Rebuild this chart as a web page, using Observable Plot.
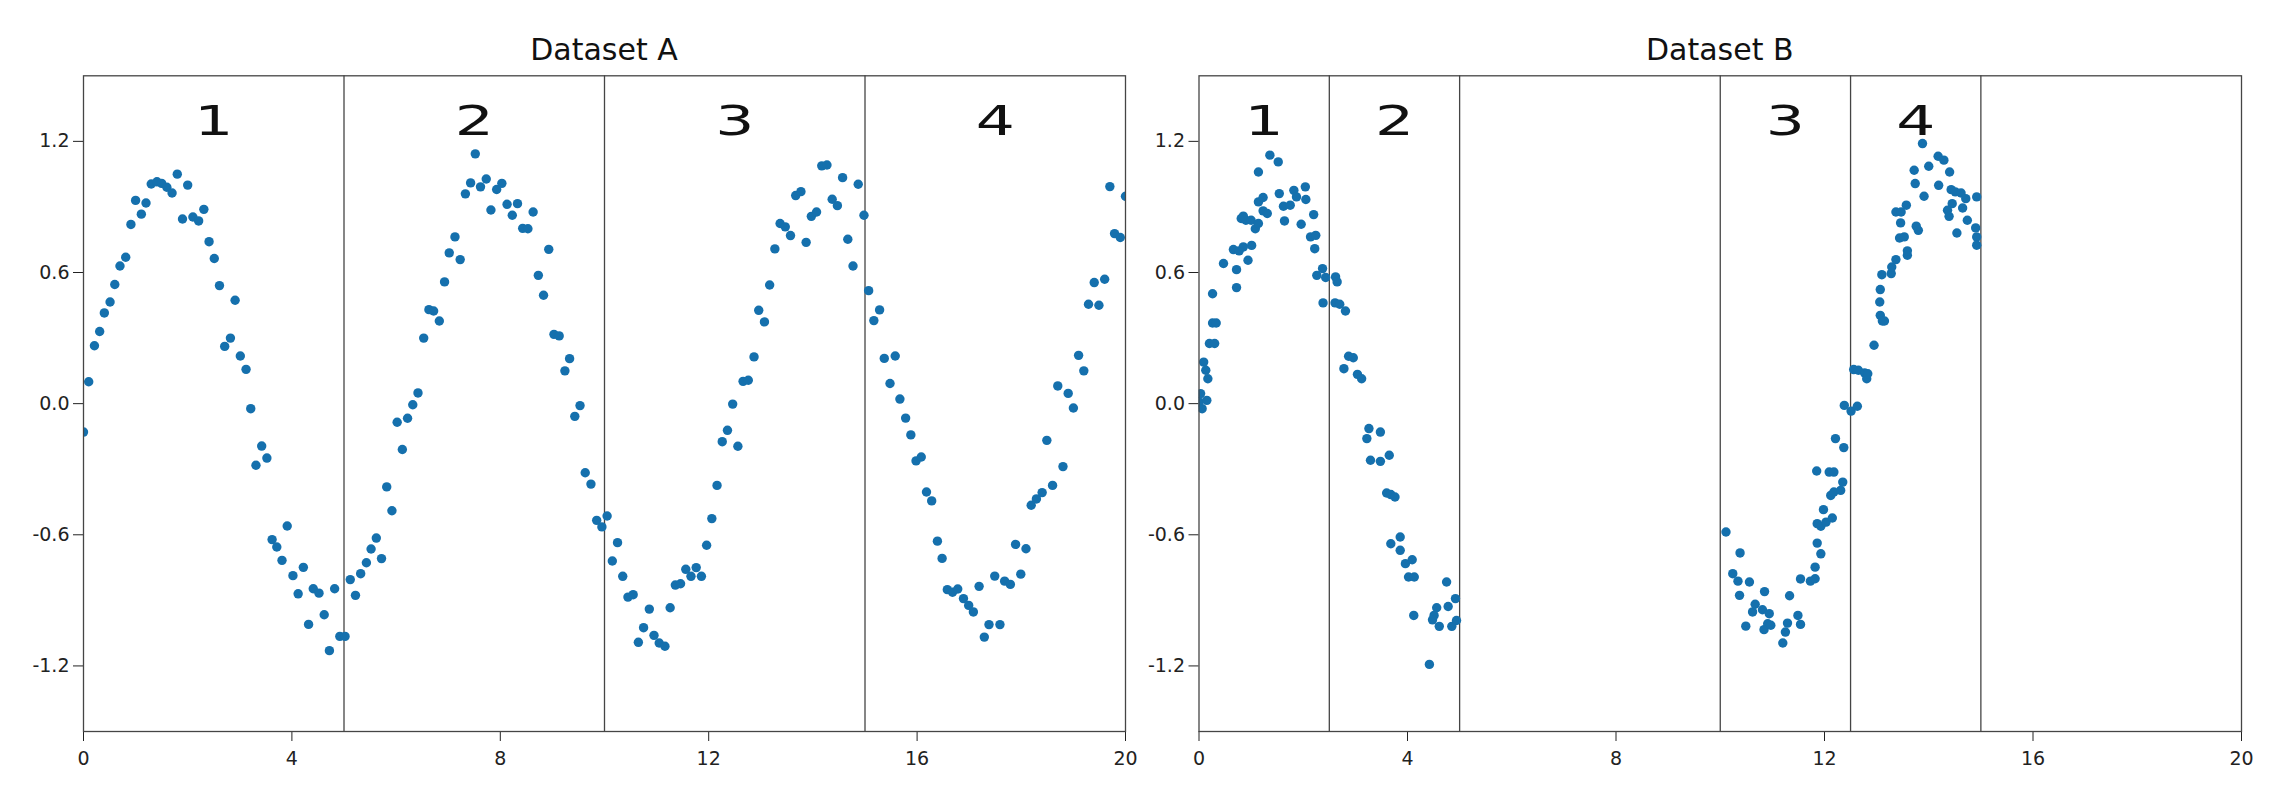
<!DOCTYPE html>
<html>
<head>
<meta charset="utf-8">
<script src="https://cdn.jsdelivr.net/npm/d3@7"></script>
<script src="https://cdn.jsdelivr.net/npm/@observablehq/plot@0.6"></script>
<style>
  html, body { margin: 0; padding: 0; background: white; }
  body { width: 2272px; height: 800px; overflow: hidden; font-family: "DejaVu Sans", sans-serif; }
  #wrap { display: flex; flex-direction: row; }
  .panel { width: 1136px; position: relative; }
  .title { height: 66px; box-sizing: border-box; padding-top: 35px; line-height: 30px; font-size: 30px; color: #111; text-align: center; white-space: nowrap; }
  svg { display: block; overflow: visible; }
</style>
</head>
<body>
<div id="wrap"></div>
<script>
// ---- Data ----
const titles = ["Dataset A", "Dataset B"];
const xTicks = [0, 4, 8, 12, 16, 20];
const yTicks = [-1.2, -0.6, 0.0, 0.6, 1.2];

// Dataset A
const xA = [0.0,0.10,0.21,0.31,0.40,0.51,0.60,0.70,0.81,0.91,1.00,1.11,1.20,1.30,1.41,1.50,1.60,1.70,1.80,1.90,2.00,2.10,2.21,2.31,2.41,2.51,2.61,2.71,2.82,2.91,3.01,3.12,3.21,3.31,3.42,3.52,3.62,3.71,3.81,3.91,4.02,4.12,4.22,4.32,4.41,4.52,4.62,4.72,4.82,4.92,5.02,5.12,5.22,5.32,5.43,5.52,5.62,5.72,5.82,5.92,6.02,6.12,6.22,6.32,6.42,6.53,6.63,6.72,6.83,6.93,7.02,7.13,7.23,7.33,7.43,7.52,7.62,7.73,7.82,7.93,8.03,8.13,8.23,8.33,8.43,8.53,8.63,8.73,8.83,8.93,9.03,9.13,9.24,9.33,9.43,9.53,9.63,9.74,9.85,9.95,10.05,10.15,10.25,10.35,10.45,10.55,10.65,10.75,10.86,10.95,11.05,11.16,11.26,11.36,11.46,11.56,11.66,11.76,11.86,11.96,12.06,12.16,12.26,12.36,12.46,12.56,12.66,12.76,12.87,12.96,13.07,13.17,13.27,13.37,13.47,13.57,13.67,13.77,13.87,13.97,14.07,14.17,14.27,14.37,14.47,14.57,14.67,14.77,14.87,14.98,15.07,15.17,15.28,15.37,15.48,15.58,15.67,15.78,15.88,15.98,16.08,16.18,16.28,16.39,16.48,16.58,16.68,16.78,16.89,16.99,17.08,17.19,17.29,17.38,17.49,17.59,17.68,17.79,17.89,17.99,18.09,18.19,18.29,18.40,18.49,18.60,18.70,18.80,18.90,19.00,19.10,19.20,19.29,19.40,19.49,19.60,19.70,19.79,19.90,20.0];
const yA = [-0.13,0.10,0.265,0.33,0.415,0.465,0.545,0.63,0.67,0.82,0.93,0.867,0.918,1.005,1.015,1.008,0.99,0.964,1.05,0.845,1.0,0.854,0.836,0.889,0.741,0.664,0.54,0.262,0.30,0.473,0.218,0.157,-0.023,-0.282,-0.194,-0.249,-0.622,-0.656,-0.717,-0.56,-0.787,-0.87,-0.749,-1.01,-0.847,-0.867,-0.966,-1.13,-0.847,-1.065,-1.065,-0.805,-0.877,-0.778,-0.728,-0.665,-0.615,-0.709,-0.381,-0.49,-0.085,-0.21,-0.067,-0.005,0.049,0.30,0.43,0.424,0.378,0.557,0.69,0.763,0.659,0.96,1.01,1.143,0.992,1.028,0.886,0.98,1.008,0.912,0.862,0.915,0.802,0.80,0.877,0.587,0.496,0.706,0.317,0.31,0.15,0.206,-0.058,-0.009,-0.316,-0.368,-0.534,-0.564,-0.514,-0.72,-0.636,-0.79,-0.885,-0.874,-1.092,-1.025,-0.94,-1.06,-1.095,-1.11,-0.934,-0.83,-0.824,-0.758,-0.79,-0.75,-0.79,-0.648,-0.526,-0.374,-0.174,-0.122,-0.002,-0.195,0.102,0.107,0.214,0.427,0.374,0.543,0.708,0.824,0.809,0.769,0.952,0.97,0.738,0.857,0.877,1.088,1.092,0.935,0.906,1.034,0.752,0.63,1.004,0.862,0.517,0.38,0.429,0.207,0.092,0.218,0.021,-0.066,-0.143,-0.262,-0.244,-0.404,-0.445,-0.629,-0.708,-0.851,-0.863,-0.848,-0.892,-0.923,-0.953,-0.836,-1.068,-1.011,-0.789,-1.011,-0.812,-0.827,-0.644,-0.78,-0.664,-0.465,-0.436,-0.407,-0.168,-0.374,0.081,-0.288,0.047,-0.02,0.221,0.15,0.455,0.554,0.45,0.569,0.993,0.778,0.76,0.949];

// Dataset B
const xB = [0.0,0.03,0.06,0.15,0.09,0.13,0.17,0.20,0.30,0.26,0.33,0.26,0.47,0.72,0.72,0.66,0.77,0.85,0.94,1.01,0.81,0.90,0.85,1.00,1.08,1.14,1.14,1.23,1.23,1.31,1.14,1.36,1.52,1.54,1.62,1.64,1.75,1.82,1.87,1.96,2.04,2.05,2.20,2.14,2.24,2.22,2.26,2.37,2.43,2.38,
  2.62,2.65,2.61,2.70,2.81,2.87,2.96,2.78,3.04,3.12,3.26,3.22,3.48,3.29,3.48,3.65,3.60,3.68,3.76,3.86,3.68,3.86,3.96,4.09,4.02,4.13,4.12,4.75,4.92,4.78,4.56,4.51,4.48,4.61,4.85,4.94,4.42,
  10.11,10.38,10.24,10.34,10.56,10.37,10.85,10.67,10.62,10.81,10.94,10.49,10.91,10.84,10.97,11.20,11.25,11.29,11.33,11.49,11.54,11.54,11.73,11.82,11.82,11.93,11.86,11.86,11.93,12.03,12.15,11.98,12.12,12.18,12.31,12.35,11.85,12.09,12.18,12.21,12.37,12.38,12.51,12.63,
  12.56,12.65,12.77,12.81,12.83,12.95,13.07,13.11,13.15,13.06,13.07,13.10,13.28,13.29,13.37,13.59,13.59,13.44,13.53,13.76,13.80,13.46,13.37,13.47,13.57,13.74,13.72,13.91,14.00,13.88,14.19,14.18,14.29,14.40,14.43,14.51,14.62,14.71,14.45,14.36,14.39,14.65,14.74,14.54,14.90,14.92,14.92,14.92];
const yB = [0.008,0.046,-0.023,0.015,0.19,0.153,0.114,0.275,0.275,0.369,0.369,0.503,0.641,0.613,0.531,0.705,0.699,0.717,0.656,0.724,0.847,0.839,0.858,0.839,0.80,0.824,0.923,0.943,0.882,0.87,1.06,1.137,1.106,0.961,0.903,0.836,0.908,0.976,0.946,0.821,0.992,0.934,0.865,0.763,0.77,0.709,0.587,0.618,0.577,0.461,
  0.58,0.557,0.461,0.455,0.424,0.217,0.21,0.16,0.134,0.114,-0.114,-0.16,-0.13,-0.259,-0.264,-0.236,-0.409,-0.416,-0.427,-0.61,-0.641,-0.671,-0.732,-0.714,-0.793,-0.793,-0.969,-0.816,-0.892,-0.928,-0.934,-0.969,-0.989,-1.019,-1.019,-0.992,-1.193,
  -0.587,-0.683,-0.778,-0.812,-0.816,-0.877,-0.86,-0.918,-0.953,-0.943,-0.961,-1.018,-1.007,-1.034,-1.014,-1.095,-1.045,-1.004,-0.879,-0.969,-1.01,-0.802,-0.812,-0.801,-0.748,-0.687,-0.638,-0.549,-0.561,-0.542,-0.523,-0.485,-0.42,-0.404,-0.397,-0.359,-0.308,-0.313,-0.313,-0.16,-0.201,-0.008,-0.034,-0.012,
  0.156,0.153,0.14,0.114,0.137,0.267,0.404,0.378,0.378,0.465,0.522,0.59,0.595,0.625,0.659,0.679,0.699,0.758,0.763,0.812,0.793,0.827,0.877,0.877,0.908,1.007,1.068,0.949,1.086,1.19,0.999,1.132,1.114,1.06,0.979,0.969,0.964,0.938,0.915,0.885,0.857,0.895,0.839,0.781,0.804,0.946,0.763,0.725];

// Region boundaries (vertical lines) and region labels
const boundsA = [5, 10, 15];
const regionsA = [[0, 5], [5, 10], [10, 15], [15, 20]];
const boundsB = [2.5, 5, 10, 12.5, 15];
const regionsB = [[0, 2.5], [2.5, 5], [10, 12.5], [12.5, 15]];
const regionNames = ["1", "2", "3", "4"];

// ---- Rendering ----
const dotColor = "#1570ad";
const lineColor = "#454545";

function panel(title, xs, ys, bounds, regions, mL, mR) {
  const pts = xs.map((x, i) => ({x, y: ys[i]}));
  const labels = regions.map((r, i) => ({x: (r[0] + r[1]) / 2, text: regionNames[i]}));
  const div = document.createElement("div");
  div.className = "panel";
  const t = document.createElement("div");
  t.className = "title";
  t.style.paddingLeft = mL + "px";
  t.style.paddingRight = mR + "px";
  t.textContent = title;
  div.appendChild(t);
  const svg = Plot.plot({
    width: 1136,
    height: 734,
    marginLeft: mL,
    marginRight: mR,
    marginTop: 9.3,
    marginBottom: 69,
    style: {fontFamily: "DejaVu Sans", fontSize: "19px", color: "#222", background: "transparent", overflow: "visible"},
    x: {domain: [0, 20], ticks: xTicks, tickFormat: d => String(d), label: null, tickSize: 10, tickPadding: 10},
    y: {domain: [-1.5, 1.5], ticks: yTicks, tickFormat: d => d.toFixed(1), label: null, tickSize: 10, tickPadding: 4},
    marks: [
      Plot.ruleX(bounds, {stroke: lineColor, strokeWidth: 1.3}),
      Plot.dot(pts, {x: "x", y: "y", r: 4.7, fill: dotColor, stroke: null, clip: true}),
      Plot.text(labels, {x: "x", y: 1.29, text: "text", fontSize: 41, fill: "#111", fontFamily: "DejaVu Sans"}),
      Plot.frame({stroke: lineColor, strokeWidth: 1.3})
    ]
  });
  // widen the region label glyphs as in the reference
  svg.querySelectorAll('g[font-size="41"] text').forEach(el => {
    const tr = el.getAttribute("transform");
    if (tr) el.setAttribute("transform", tr + " scale(1.5,1)");
    else {
      const x = +el.getAttribute("x") || 0, y = +el.getAttribute("y") || 0;
      el.setAttribute("transform", `translate(${x},${y}) scale(1.5,1) translate(${-x},${-y})`);
    }
  });
  div.appendChild(svg);
  return div;
}

const wrap = document.getElementById("wrap");
wrap.appendChild(panel(titles[0], xA, yA, boundsA, regionsA, 83, 11));
wrap.appendChild(panel(titles[1], xB, yB, boundsB, regionsB, 62.5, 31));
</script>
</body>
</html>
